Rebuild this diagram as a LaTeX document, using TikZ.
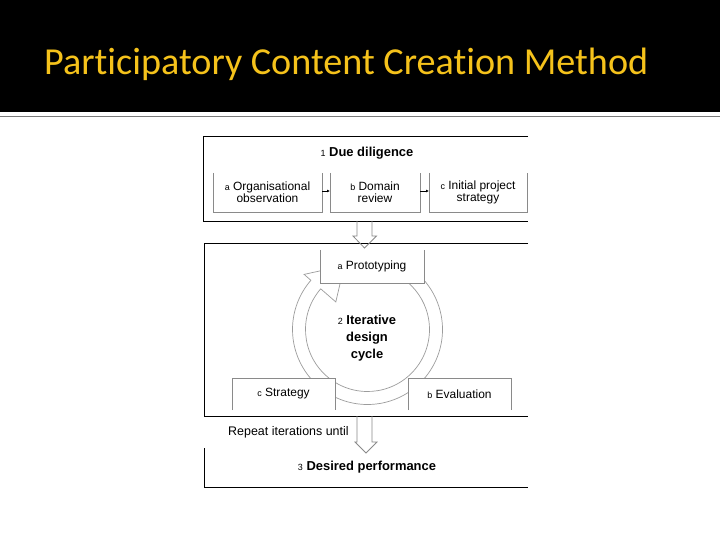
\documentclass[tikz,border=0pt]{standalone}
\usepackage{fontspec}
\setmainfont{Liberation Sans}
\newfontfamily\titlefont[Ligatures={NoCommon,NoDiscretionary,NoContextual}]{Carlito}
\usetikzlibrary{calc,arrows.meta}
\definecolor{titleyellow}{HTML}{F5C21B}
\definecolor{sepgray}{HTML}{7A7A7A}
\definecolor{linegray}{HTML}{8A8A8A}
\definecolor{ringgray}{HTML}{9C9C9C}
\begin{document}
\begin{tikzpicture}[x=1bp,y=-1bp,
  outerline/.style={draw=black, line width=0.9bp},
  subline/.style={draw=linegray, line width=0.8bp},
  area/.style={inner sep=0pt, outer sep=0pt},
  subtext/.style={align=center, font=\fontsize{12}{12.5}\selectfont},
  headtext/.style={align=center, font=\fontsize{13}{17}\selectfont\bfseries},
  hollow/.style={draw=linegray, line width=0.8bp},
  ringst/.style={draw=ringgray, line width=0.7bp, fill=white},
  smallarrow/.style={-{Latex[length=3bp,width=3bp]}, line width=0.8bp, black}
]
\newcommand{\lbl}[1]{{\fontsize{9}{9}\selectfont\mdseries #1}}
% canvas
\useasboundingbox (0,0) rectangle (720,540);
\fill[white] (0,0) rectangle (720,540);
\fill[black] (0,0) rectangle (720,112.5);
\draw[sepgray, line width=1.6bp] (0,116.5) -- (720,116.5);
\node[anchor=base west, inner sep=0pt, text=titleyellow] (title) at (44,75)
  {\resizebox{604bp}{!}{\titlefont\fontsize{40}{40}\selectfont Participatory Content Creation Method}};

% box 1: due diligence
\node[area, minimum width=325bp, minimum height=85bp] (b1) at (365.5,178.5) {};
\draw[outerline] (b1.north east) -- (b1.north west) -- (b1.south west) -- (b1.south east);
\node[headtext] (t1) at (367,153) {\lbl{1} Due diligence};
\node[area, minimum width=109bp, minimum height=39bp] (oa) at (267.5,192.5) {};
\node[area, minimum width=90bp, minimum height=39bp] (ob) at (375,192.5) {};
\node[area, minimum width=98bp, minimum height=39bp] (oc) at (478,192.5) {};
\foreach \n in {oa,ob,oc}
  \draw[subline] (\n.north west) -- (\n.south west) -- (\n.south east) -- (\n.north east);
\node[subtext] (ta) at (oa.center) {\lbl{a} Organisational\\observation};
\node[subtext] (tb) at (ob.center) {\lbl{b} Domain\\review};
\node[subtext] (tc) at (oc.center) {\lbl{c} Initial project\\strategy};
\draw[smallarrow] ($(oa.east)+(0,-1.5)$) -- ($(ob.west)+(0,-1.5)$);
\draw[smallarrow] ($(ob.east)+(0,-1.5)$) -- ($(oc.west)+(0,-1.5)$);

% box 2: iterative cycle
\node[area, minimum width=324bp, minimum height=173bp] (b2) at (366,329.5) {};
\draw[outerline] (b2.north east) -- (b2.north west) -- (b2.south west) -- (b2.south east);

% hollow arrow 1
\coordinate (h1) at (364.5,221);
\draw[hollow] (h1) ++(-7.5,0) -- ++(0,15) -- ++(-4,0) -- (364.5,248) -- (376.5,236) -- ++(-4.5,0) -- ++(0,-15);

% ring arrow
\coordinate (c) at (367.5,329.5);
\draw[ringst] ($(c)+(-60:75)$) arc[start angle=-60, end angle=221, radius=75]
  -- ($(c)+(221:84)$) -- ($(c)+(250:68)$) -- ($(c)+(221:42)$) -- ($(c)+(221:62)$)
  arc[start angle=221, end angle=-60, radius=62] -- cycle;

\node[area, minimum width=104bp, minimum height=33bp, fill=white] (pa) at (372,266.5) {};
\node[area, minimum width=103bp, minimum height=32bp, fill=white] (pc) at (283.5,394) {};
\node[area, minimum width=103bp, minimum height=32bp, fill=white] (pb) at (459.5,394) {};
\draw[subline] (pa.north west) -- (pa.south west) -- (pa.south east) -- (pa.north east);
\draw[subline] (pc.south west) -- (pc.north west) -- (pc.north east) -- (pc.south east);
\draw[subline] (pb.south west) -- (pb.north west) -- (pb.north east) -- (pb.south east);
\node[subtext] (tpa) at (pa.center) {\lbl{a} Prototyping};
\node[subtext] (tpc) at (pc.center) {\lbl{c} Strategy};
\node[subtext] (tpb) at (pb.center) {\lbl{b} Evaluation};
\node[headtext] (t2) at (367,338) {\lbl{2} Iterative\\design\\cycle};

% hollow arrow 2
\coordinate (h2) at (364.5,416);
\draw[hollow] (h2) ++(-7.5,0) -- ++(0,26) -- ++(-2,0) -- (366,453) -- (377,442) -- ++(-5,0) -- ++(0,-26);
\node[anchor=west, inner sep=0pt, font=\fontsize{12.5}{13}\selectfont] (rep) at (228,432) {Repeat iterations until};

% box 3
\node[area, minimum width=324bp, minimum height=39bp] (b3) at (366,467.5) {};
\draw[outerline] (b3.north west) -- (b3.south west) -- (b3.south east);
\node[headtext] (t3) at (367,467) {\lbl{3} Desired performance};
\end{tikzpicture}
\end{document}
